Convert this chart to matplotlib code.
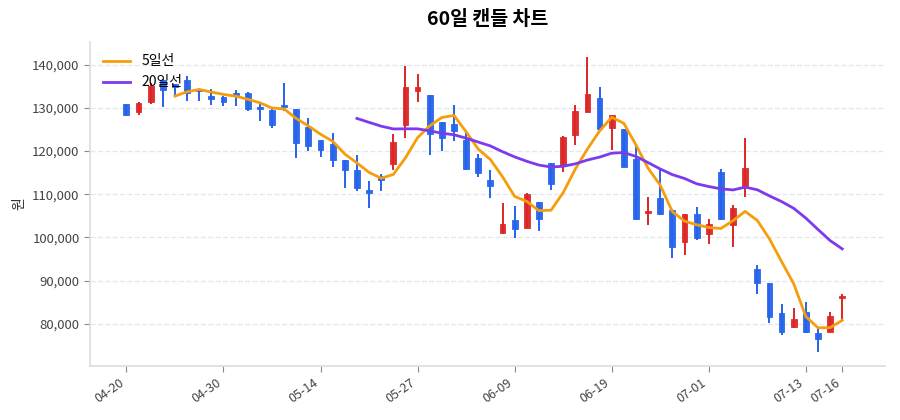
import numpy as np
import pandas as pd
import matplotlib
matplotlib.use('Agg')
import matplotlib.pyplot as plt
from matplotlib.ticker import FuncFormatter

plt.rcParams['font.family'] = ['Noto Sans CJK KR', 'DejaVu Sans']

# 60 trading days of OHLC (won)
opens = [130900, 129150, 131300, 136450, 135550, 136450, 134150, 132700, 132450, 133500,
         133400, 130150, 129600, 130770, 129700, 125530, 122450, 121680, 117830, 115680,
         110900, 114130, 117050, 126060, 133840, 133000, 126680, 126220, 122600, 118290,
         113200, 100960, 103960, 102270, 108200, 117290, 116440, 123750, 129140, 132220,
         125230, 125070, 118220, 105670, 109210, 106440, 98820, 105440, 100900, 115060,
         102830, 111840, 92670, 89350, 82420, 79190, 82810, 77960, 78190, 85890]
highs = [131000, 131300, 135700, 136700, 135600, 137450, 134200, 134300, 132850, 134200,
         133770, 131080, 129770, 135780, 129750, 127690, 122500, 124150, 117900, 118990,
         113050, 114590, 123980, 139620, 137840, 133100, 126700, 130760, 124140, 119210,
         115510, 108040, 107200, 110350, 108250, 117350, 123600, 130680, 141850, 134760,
         128400, 125100, 121150, 109440, 115910, 106500, 105400, 106980, 104200, 115750,
         107600, 123140, 93590, 89400, 84500, 83660, 85120, 78730, 82810, 86890]
lows = [128100, 128400, 130800, 130150, 132850, 131550, 131700, 130700, 130400, 130500,
        129380, 126920, 125300, 129230, 118370, 120000, 118600, 116300, 111520, 110670,
        106900, 110740, 115670, 123060, 131450, 119130, 119980, 122440, 115700, 113970,
        109200, 100900, 99900, 102200, 101500, 110890, 115050, 121520, 129100, 124900,
        120300, 116200, 104100, 102970, 105300, 95270, 95890, 99350, 98430, 104100,
        97670, 109370, 86890, 80270, 77420, 79100, 77800, 73570, 78100, 80880]
closes = [128400, 131150, 135000, 134200, 134900, 133400, 133850, 132000, 131450, 132900,
          129800, 129770, 126000, 130300, 121840, 121220, 120140, 117830, 115520, 111520,
          110280, 113360, 122210, 134760, 134920, 123980, 122980, 124680, 115750, 114900,
          111900, 103040, 101880, 109970, 104200, 112430, 123370, 129220, 133220, 125000,
          128380, 116290, 104200, 106210, 105360, 97740, 105360, 99970, 103050, 104200,
          106830, 116070, 89510, 81650, 78030, 81040, 78190, 76420, 81810, 86500]

tick_labels = ['04-20', '04-30', '05-14', '05-27', '06-09', '06-19', '07-01', '07-13', '07-16']

df = pd.DataFrame({'open': opens, 'high': highs, 'low': lows, 'close': closes})
df['ma5'] = df['close'].rolling(5).mean()
df['ma20'] = df['close'].rolling(20).mean()
x = np.arange(len(df))

up_color = '#dc2626'
down_color = '#2563eb'
colors = np.where(df['close'] >= df['open'], up_color, down_color)

fig, ax = plt.subplots(figsize=(9, 4.2), dpi=100)
fig.subplots_adjust(left=0.1, right=0.983, top=0.9, bottom=0.128)

# wicks and bodies
ax.vlines(x, df['low'], df['high'], colors=colors, linewidth=1.4, zorder=2)
body_bottom = np.minimum(df['open'], df['close'])
body_height = np.maximum((df['close'] - df['open']).abs(), 300)
ax.bar(x, body_height, bottom=body_bottom, width=0.48, color=colors,
       edgecolor=colors, linewidth=0.6, alpha=0.95, zorder=2)

# moving averages
ax.plot(x, df['ma5'], color='#f59e0b', linewidth=2, label='5일선', zorder=3)
ax.plot(x, df['ma20'], color='#7c3aed', linewidth=2, label='20일선', zorder=3)

ax.set_title('60일 캔들 차트', fontsize=14, fontweight='bold', pad=12)
ax.set_ylabel('원', fontsize=10, color='#333333')

tick_pos = list(range(0, len(df), 8)) + [len(df) - 1]
ax.set_xticks(tick_pos)
ax.set_xticklabels(tick_labels, rotation=35, ha='right', fontsize=9, color='#444444')
ax.set_xlim(-3, 62.5)
ax.yaxis.set_major_formatter(FuncFormatter(lambda v, p: f'{int(v):,}'))
ax.tick_params(axis='y', labelsize=9.5, colors='#444444')
ax.tick_params(axis='both', color='#888888', length=4)

ax.grid(axis='y', linestyle='--', color='#e5e7eb', linewidth=1)
ax.set_axisbelow(True)
for side in ['top', 'right']:
    ax.spines[side].set_visible(False)
for side in ['left', 'bottom']:
    ax.spines[side].set_color('#d9dce3')
    ax.spines[side].set_linewidth(1.2)

ax.legend(loc='upper left', frameon=False, fontsize=10)

plt.savefig('out.png', dpi=100)
